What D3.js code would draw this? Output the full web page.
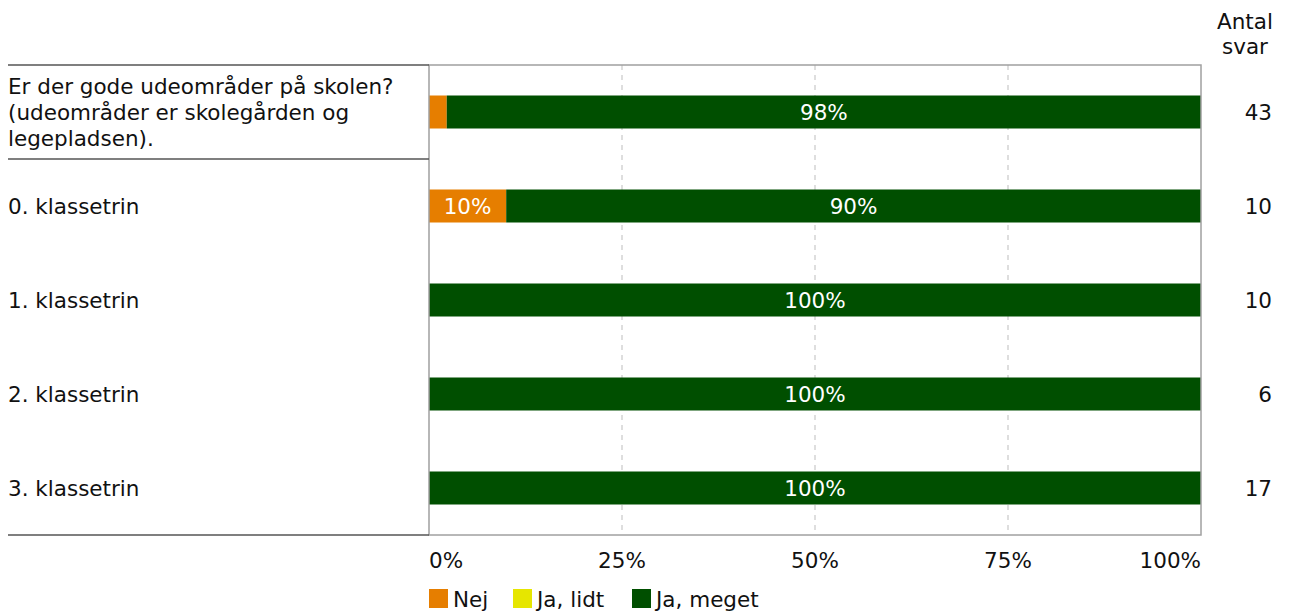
<!DOCTYPE html>
<html>
<head>
<meta charset="utf-8">
<script src="https://cdn.jsdelivr.net/npm/d3@7"></script>
<style>
  body { margin: 0; background: #fff; }
  text { font-family: "DejaVu Sans", Verdana, sans-serif; }
</style>
</head>
<body>
<div id="plot"></div>
<script>
// data
var categories = ["Er der gode udeområder på skolen? (udeområder er skolegården og legepladsen).",
                  "0. klassetrin", "1. klassetrin", "2. klassetrin", "3. klassetrin"];
var labelLines = [["Er der gode udeområder på skolen?", "(udeområder er skolegården og", "legepladsen)."],
                  ["0. klassetrin"], ["1. klassetrin"], ["2. klassetrin"], ["3. klassetrin"]];
var seriesNames = ["Nej", "Ja, lidt", "Ja, meget"];
var nej      = [2.3, 10, 0, 0, 0];
var jaLidt   = [0, 0, 0, 0, 0];
var jaMeget  = [97.7, 90, 100, 100, 100];
var antal    = [43, 10, 10, 6, 17];
var ticks    = [0, 25, 50, 75, 100];
var colors   = ["#e67e00", "#e6e600", "#004f00"];

var W = 1289, H = 615;
var plot = {left: 429, right: 1201, top: 65, bottom: 535};
var fs = "21.5px";

var svg = d3.select("#plot").append("svg")
    .attr("width", W)
    .attr("height", H);

var Xscale = d3.scaleLinear().domain([0, 100]).range([plot.left, plot.right]);
var Yscale = d3.scaleBand().domain(categories).range([plot.top, plot.bottom]);
var barH = 33;

// dashed grid
svg.selectAll("line.grid")
    .data(ticks.filter(function(t){ return t > 0 && t < 100; }))
    .enter().append("line")
    .attr("class", "grid")
    .attr("x1", function(d){ return Xscale(d); })
    .attr("x2", function(d){ return Xscale(d); })
    .attr("y1", plot.top)
    .attr("y2", plot.bottom)
    .attr("stroke", "#bdbdbd")
    .attr("stroke-width", 1)
    .style("stroke-dasharray", "5, 5");

// stacked bars
var rows = categories.map(function(c, i){ return {cat: c, vals: [nej[i], jaLidt[i], jaMeget[i]]}; });
rows.forEach(function(r){
    var x0 = 0;
    r.vals.forEach(function(v, j){
        if (v > 0) {
            var y = Yscale(r.cat) + (Yscale.bandwidth() - barH) / 2;
            svg.append("rect")
                .attr("x", Xscale(x0))
                .attr("y", y)
                .attr("width", Xscale(x0 + v) - Xscale(x0))
                .attr("height", barH)
                .attr("fill", colors[j]);
            if (v >= 5) {
                svg.append("text")
                    .attr("x", (Xscale(x0) + Xscale(x0 + v)) / 2)
                    .attr("y", y + barH / 2)
                    .attr("dy", "0.36em")
                    .attr("text-anchor", "middle")
                    .style("font-size", fs)
                    .attr("fill", j == 1 ? "#000" : "white")
                    .text(Math.round(v) + "%");
            }
        }
        x0 += v;
    });
});

// plot frame
svg.append("rect")
    .attr("x", plot.left)
    .attr("y", plot.top)
    .attr("width", plot.right - plot.left)
    .attr("height", plot.bottom - plot.top)
    .attr("fill", "none")
    .attr("stroke", "#a0a0a0")
    .attr("stroke-width", 1.5);

// left side rules (question header and bottom)
[plot.top, Yscale(categories[1]), plot.bottom].forEach(function(y){
    svg.append("line")
        .attr("x1", 8).attr("x2", plot.left)
        .attr("y1", y).attr("y2", y)
        .attr("stroke", "#555")
        .attr("stroke-width", 1.5);
});

// row labels
labelLines.forEach(function(lines, i){
    var cy = Yscale(categories[i]) + Yscale.bandwidth() / 2;
    var t = svg.append("text")
        .attr("x", 8)
        .attr("y", cy - (lines.length - 1) * 26 / 2)
        .style("font-size", fs)
        .attr("fill", "#111");
    lines.forEach(function(l, k){
        t.append("tspan").attr("x", 8).attr("dy", k == 0 ? "0.36em" : "26px").text(l);
    });
});

// counts
svg.append("text").attr("x", 1245).attr("y", 21).attr("dy", "0.36em").attr("text-anchor", "middle")
    .style("font-size", fs).attr("fill", "#111").text("Antal");
svg.append("text").attr("x", 1245).attr("y", 46).attr("dy", "0.36em").attr("text-anchor", "middle")
    .style("font-size", fs).attr("fill", "#111").text("svar");
svg.selectAll("text.antal")
    .data(antal)
    .enter().append("text")
    .attr("class", "antal")
    .attr("x", 1272)
    .attr("y", function(d, i){ return Yscale(categories[i]) + Yscale.bandwidth() / 2; })
    .attr("dy", "0.36em")
    .attr("text-anchor", "end")
    .style("font-size", fs)
    .attr("fill", "#111")
    .text(function(d){ return d; });

// x tick labels
svg.selectAll("text.tick")
    .data(ticks)
    .enter().append("text")
    .attr("class", "tick")
    .attr("x", function(d){ return Xscale(d); })
    .attr("y", 560)
    .attr("dy", "0.36em")
    .attr("text-anchor", function(d){ return d == 0 ? "start" : (d == 100 ? "end" : "middle"); })
    .style("font-size", fs)
    .attr("fill", "#111")
    .text(function(d){ return d + "%"; });

// handmade legend
var legX = [429, 513, 632];
seriesNames.forEach(function(s, i){
    svg.append("rect").attr("x", legX[i]).attr("y", 589).attr("width", 19).attr("height", 19)
        .attr("fill", colors[i]);
    svg.append("text").attr("x", legX[i] + 24).attr("y", 599).attr("dy", "0.36em")
        .style("font-size", fs).attr("fill", "#111").text(s);
});
</script>
</body>
</html>
